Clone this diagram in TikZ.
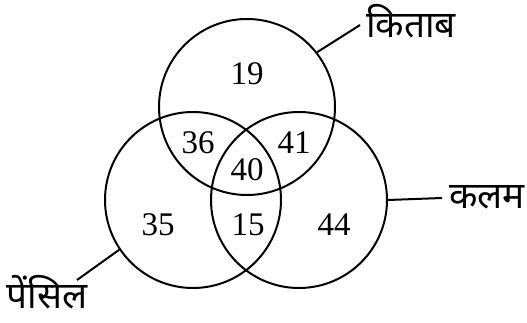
\documentclass[tikz,border=0pt]{standalone}
\usepackage{fontspec}
\setmainfont{Liberation Serif}
\newfontfamily\deva[Script=Devanagari]{Noto Sans}
\begin{document}
\begin{tikzpicture}[x=1pt,y=-1pt,
  setc/.style={circle,draw,line width=2pt,minimum size=176pt,inner sep=0pt},
  num/.style={font=\fontsize{33}{35}\selectfont,inner sep=0pt},
  lab/.style={font=\deva\fontsize{37}{39}\selectfont,inner sep=0pt},
  conn/.style={line width=2pt}]
\useasboundingbox (0,0) rectangle (527,323);
\node[setc] (K) at (247,107) {};
\node[setc] (P) at (193,200) {};
\node[setc] (R) at (299,200) {};
\node[num] (n19) at (247,74) {19};
\node[num] (n36) at (198,143) {36};
\node[num] (n41) at (294,143) {41};
\node[num] (n40) at (247,170) {40};
\node[num] (n35) at (158,225) {35};
\node[num] (n15) at (248,225) {15};
\node[num] (n44) at (334,225) {44};
\coordinate (ke) at (360,25);
\coordinate (re) at (442,198);
\coordinate (pe) at (77,280);
\node[lab,anchor=west] (kt) at (366,21) {किताब};
\node[lab,anchor=west] (rt) at (449,197) {कलम};
\node[lab] (pt) at (47,292) {पेंसिल};
\draw[conn] (K.38) -- (ke);
\draw[conn] (R.0) -- (re);
\draw[conn] (P.214) -- (pe);
\end{tikzpicture}
\end{document}
